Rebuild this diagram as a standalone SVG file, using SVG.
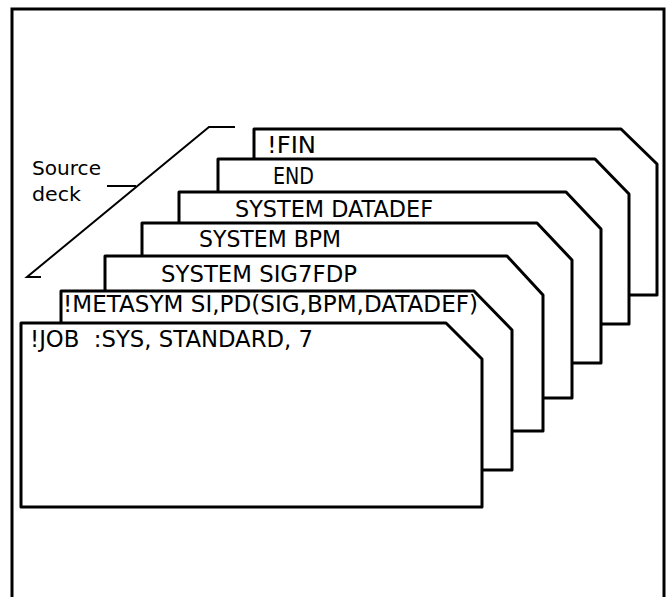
<svg xmlns="http://www.w3.org/2000/svg" width="668" height="597" viewBox="0 0 668 597">
  <style>
    .card { fill: #ffffff; stroke: #000000; stroke-width: 3; stroke-linejoin: round; }
    .frame { fill: none; stroke: #000000; stroke-width: 3; }
    .thin { fill: none; stroke: #000000; stroke-width: 2; }
    .lbl { font-family: "DejaVu Sans", "Liberation Sans", sans-serif; font-size: 23px; fill: #000000; }
    .note { font-family: "DejaVu Sans", "Liberation Sans", sans-serif; font-size: 19px; fill: #000000; }
  </style>
  <rect x="0" y="0" width="668" height="597" fill="#ffffff"/>
  <path class="frame" d="M12,597 V9 H664 V597"/>

  <g id="source-deck-label">
    <text class="note" x="32" y="175" textLength="69" lengthAdjust="spacingAndGlyphs">Source</text>
    <text class="note" x="32" y="201" textLength="49" lengthAdjust="spacingAndGlyphs">deck</text>
  </g>
  <g id="connectors">
    <path class="thin" d="M235,127 H209 L27,277 H41"/>
    <path class="thin" d="M107,186 H136"/>
  </g>

  <g id="card-fin">
    <path class="card" d="M254,295 V129 H621 L657,164 V295 Z"/>
    <text class="lbl" x="267" y="153" textLength="49" lengthAdjust="spacingAndGlyphs">!FIN</text>
  </g>
  <g id="card-end">
    <path class="card" d="M218,324 V159 H595 L629,194 V324 Z"/>
    <text class="lbl" x="273" y="184" textLength="41" lengthAdjust="spacingAndGlyphs">END</text>
  </g>
  <g id="card-datadef">
    <path class="card" d="M179,363 V192 H566 L601,229 V363 Z"/>
    <text class="lbl" x="235" y="217" textLength="198" lengthAdjust="spacingAndGlyphs">SYSTEM DATADEF</text>
  </g>
  <g id="card-bpm">
    <path class="card" d="M142,398 V223 H537 L572,260 V398 Z"/>
    <text class="lbl" x="199" y="247" textLength="142" lengthAdjust="spacingAndGlyphs">SYSTEM BPM</text>
  </g>
  <g id="card-sig7fdp">
    <path class="card" d="M105,431 V256 H507 L543,295 V431 Z"/>
    <text class="lbl" x="161" y="282" textLength="196" lengthAdjust="spacingAndGlyphs">SYSTEM SIG7FDP</text>
  </g>
  <g id="card-metasym">
    <path class="card" d="M61,470 V291 H474 L512,330 V470 Z"/>
    <text class="lbl" x="63" y="312" textLength="415" lengthAdjust="spacingAndGlyphs">!METASYM SI,PD(SIG,BPM,DATADEF)</text>
  </g>
  <g id="card-job">
    <path class="card" d="M21,507 V323 H446 L482,359 V507 Z"/>
    <text class="lbl" x="30" y="347" textLength="283" lengthAdjust="spacingAndGlyphs" xml:space="preserve">!JOB  :SYS, STANDARD, 7</text>
  </g>
</svg>
